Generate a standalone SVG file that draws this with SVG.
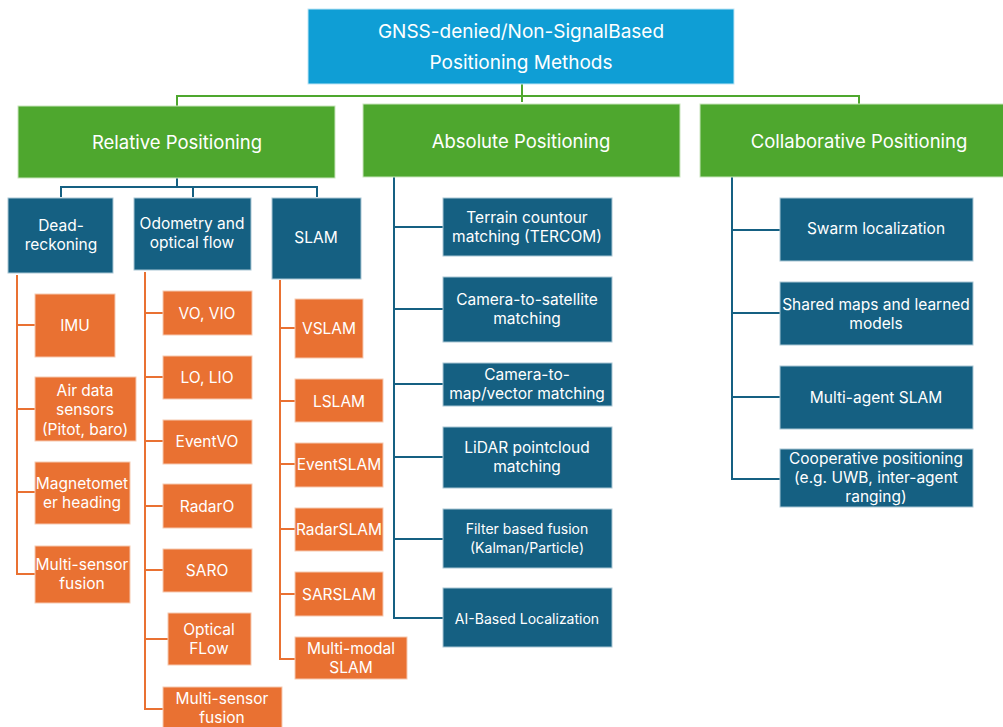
<svg xmlns="http://www.w3.org/2000/svg" width="1003" height="727" viewBox="0 0 1003 727">
<style>
text{font-family:Inter,"Open Sans","Liberation Sans",Arial,sans-serif;fill:#fff;text-anchor:middle;dominant-baseline:central}
.root rect{fill:#0f9ed5;stroke:#bfe6f5;stroke-width:1}
.cat rect{fill:#4ea72e;stroke:#c9e6bd;stroke-width:1}
.blue rect{fill:#156082;stroke:#a9c6d4;stroke-width:1}
.org rect{fill:#e97132;stroke:#f6c9b0;stroke-width:1}
.root text{font-size:19px}
.cat text{font-size:18.5px}
.blue text,.org text{font-size:15.5px}
.sm text{font-size:14px}
.cg{fill:none;stroke:#4ea72e;stroke-width:2}
.cb{fill:none;stroke:#156082;stroke-width:2}
.co{fill:none;stroke:#e97132;stroke-width:2}
</style>
<rect width="1003" height="727" fill="#fff"/>
<g id="connectors">
<path class="cg" d="M522 84V102M177 106V96H859V104"/>
<path class="cb" d="M177 178V187M61 197V187H317V197M193 187V197"/>
<path class="co" d="M17 275V574H35M17 325H35M17 409H35M17 492H35"/>
<path class="co" d="M145 272V709H163M145 313H163M145 377H163M145 441H163M145 506H163M145 570H163M145 639H168"/>
<path class="co" d="M280 280V659H295M280 328H295M280 401H295M280 464H295M280 529H295M280 594H295"/>
<path class="cb" d="M394 177V618H443M394 227H443M394 309H443M394 384H443M394 457H443M394 539H443"/>
<path class="cb" d="M732 177V479H780M732 230H780M732 313H780M732 397H780"/>
</g>
<g id="root" class="root"><rect x="308" y="9" width="426" height="75"/><text x="521" y="31">GNSS-denied/Non-SignalBased</text><text x="521" y="62">Positioning Methods</text></g>
<g id="relative" class="cat"><rect x="18" y="106" width="317" height="72"/><text x="177" y="142">Relative Positioning</text></g>
<g id="absolute" class="cat"><rect x="363" y="104" width="317" height="73"/><text x="521" y="141">Absolute Positioning</text></g>
<g id="collaborative" class="cat"><rect x="700" y="104" width="310" height="73"/><text x="859" y="141">Collaborative Positioning</text></g>
<g id="dead" class="blue"><rect x="8" y="198" width="105" height="75"/><text x="61" y="225">Dead-</text><text x="61" y="244">reckoning</text></g>
<g id="odometry" class="blue"><rect x="134" y="198" width="117" height="72"/><text x="192" y="223">Odometry and</text><text x="192" y="242">optical flow</text></g>
<g id="slam" class="blue"><rect x="272" y="198" width="89" height="81"/><text x="316" y="237">SLAM</text></g>
<g id="imu" class="org"><rect x="35" y="294" width="80" height="63"/><text x="75" y="325">IMU</text></g>
<g id="airdata" class="org"><rect x="35" y="377" width="101" height="64"/><text x="85" y="390">Air data</text><text x="85" y="409">sensors</text><text x="85" y="429">(Pitot, baro)</text></g>
<g id="magneto" class="org"><rect x="35" y="462" width="95" height="62"/><text x="82" y="483">Magnetomet</text><text x="82" y="502">er heading</text></g>
<g id="msf1" class="org"><rect x="35" y="546" width="95" height="57"/><text x="82" y="564">Multi-sensor</text><text x="82" y="583">fusion</text></g>
<g id="vo" class="org"><rect x="163" y="291" width="89" height="44"/><text x="207" y="313">VO, VIO</text></g>
<g id="lo" class="org"><rect x="163" y="356" width="89" height="43"/><text x="207" y="377">LO, LIO</text></g>
<g id="eventvo" class="org"><rect x="163" y="420" width="89" height="44"/><text x="207" y="441">EventVO</text></g>
<g id="radaro" class="org"><rect x="163" y="484" width="89" height="44"/><text x="207" y="506">RadarO</text></g>
<g id="saro" class="org"><rect x="163" y="549" width="89" height="43"/><text x="207" y="570">SARO</text></g>
<g id="optflow" class="org"><rect x="168" y="613" width="83" height="52"/><text x="209" y="629">Optical</text><text x="209" y="648">FLow</text></g>
<g id="msf2" class="org"><rect x="163" y="687" width="119" height="45"/><text x="222" y="698">Multi-sensor</text><text x="222" y="717">fusion</text></g>
<g id="vslam" class="org"><rect x="295" y="299" width="68" height="59"/><text x="329" y="328">VSLAM</text></g>
<g id="lslam" class="org"><rect x="295" y="379" width="88" height="43"/><text x="339" y="401">LSLAM</text></g>
<g id="eventslam" class="org"><rect x="295" y="443" width="88" height="44"/><text x="339" y="464">EventSLAM</text></g>
<g id="radarslam" class="org"><rect x="295" y="508" width="88" height="43"/><text x="339" y="529">RadarSLAM</text></g>
<g id="sarslam" class="org"><rect x="295" y="572" width="88" height="44"/><text x="339" y="594">SARSLAM</text></g>
<g id="mmslam" class="org"><rect x="295" y="637" width="112" height="42"/><text x="351" y="648">Multi-modal</text><text x="351" y="667">SLAM</text></g>
<g id="tercom" class="blue"><rect x="443" y="198" width="169" height="58"/><text x="527" y="217">Terrain countour</text><text x="527" y="236">matching (TERCOM)</text></g>
<g id="camsat" class="blue"><rect x="443" y="277" width="169" height="65"/><text x="527" y="299">Camera-to-satellite</text><text x="527" y="318">matching</text></g>
<g id="cammap" class="blue"><rect x="443" y="363" width="169" height="43"/><text x="527" y="374">Camera-to-</text><text x="527" y="393">map/vector matching</text></g>
<g id="lidar" class="blue"><rect x="443" y="427" width="169" height="61"/><text x="527" y="447">LiDAR pointcloud</text><text x="527" y="466">matching</text></g>
<g id="filter" class="blue sm"><rect x="443" y="509" width="169" height="59"/><text x="527" y="528">Filter based fusion</text><text x="527" y="547">(Kalman/Particle)</text></g>
<g id="ai" class="blue sm"><rect x="443" y="588" width="169" height="59"/><text x="527" y="618">AI-Based Localization</text></g>
<g id="swarm" class="blue"><rect x="780" y="198" width="193" height="63"/><text x="876" y="228">Swarm localization</text></g>
<g id="shared" class="blue"><rect x="780" y="282" width="193" height="63"/><text x="876" y="304">Shared maps and learned</text><text x="876" y="323">models</text></g>
<g id="multiagent" class="blue"><rect x="780" y="366" width="193" height="63"/><text x="876" y="397">Multi-agent SLAM</text></g>
<g id="coop" class="blue"><rect x="780" y="449" width="193" height="58"/><text x="876" y="458">Cooperative positioning</text><text x="876" y="477">(e.g. UWB, inter-agent</text><text x="876" y="496">ranging)</text></g>
</svg>
